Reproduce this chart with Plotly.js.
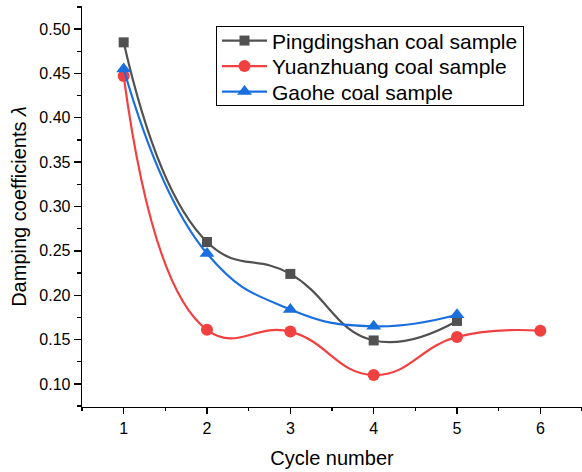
<!DOCTYPE html>
<html>
<head>
<meta charset="utf-8">
<script src="https://cdn.plot.ly/plotly-3.0.1.min.js"></script>
<style>
  html, body { margin: 0; padding: 0; background: #ffffff; }
  #chart { width: 582px; height: 472px; }
</style>
</head>
<body>
<div id="chart"></div>
<script>
// Damping coefficient per loading cycle for three coal samples
const cycles = [1, 2, 3, 4, 5, 6];
const pingdingshan = [0.485, 0.260, 0.224, 0.149, 0.171];
const yuanzhuang   = [0.447, 0.161, 0.159, 0.110, 0.153, 0.160];
const gaohe        = [0.455, 0.247, 0.184, 0.165, 0.178];
const xTicks = [1, 2, 3, 4, 5, 6];
const yTicks = [0.10, 0.15, 0.20, 0.25, 0.30, 0.35, 0.40, 0.45, 0.50];

const FONT = 'Liberation Sans, Arial, Helvetica, sans-serif';

function series(name, xs, ys, color, symbol, size) {
  return {
    type: 'scatter',
    mode: 'lines+markers',
    name: name,
    x: xs.slice(0, ys.length),
    y: ys,
    line: { color: color, width: 2.2, shape: 'spline', smoothing: 1.3 },
    marker: { color: color, symbol: symbol, size: size, line: { width: 0 } },
    cliponaxis: false
  };
}

const traces = [
  series('Pingdingshan coal sample', cycles, pingdingshan, '#515151', 'square', 10),
  series('Yuanzhuang coal sample', cycles, yuanzhuang, '#F14040', 'circle', 12),
  series('Gaohe coal sample', cycles, gaohe, '#1A6FDF', 'triangle-up', 13)
];

const layout = {
  width: 582,
  height: 472,
  margin: { l: 82, r: 0, t: 6, b: 65 },
  paper_bgcolor: '#ffffff',
  plot_bgcolor: '#ffffff',
  font: { family: FONT, color: '#000000', size: 16 },
  showlegend: true,
  legend: {
    x: 0.268, y: 0.95, xanchor: 'left', yanchor: 'top',
    bgcolor: '#ffffff', bordercolor: '#000000', borderwidth: 1,
    font: { family: FONT, size: 21, color: '#000000' },
    itemwidth: 45,
    tracegroupgap: 0
  },
  xaxis: {
    range: [0.5, 6.5],
    tickmode: 'array', tickvals: xTicks, ticktext: xTicks.map(String),
    ticks: 'outside', ticklen: 6, tickwidth: 1.3, tickcolor: '#000000',
    minor: { dtick: 0.5, tick0: 0.5, ticks: 'outside', ticklen: 3, tickwidth: 1.3, tickcolor: '#000000' },
    showline: true, linecolor: '#000000', linewidth: 1.3,
    showgrid: false, zeroline: false,
    tickfont: { family: FONT, size: 16 },
    title: { text: 'Cycle number', font: { family: FONT, size: 20 }, standoff: 15 }
  },
  yaxis: {
    range: [0.074, 0.526],
    tickmode: 'array', tickvals: yTicks, ticktext: yTicks.map(v => v.toFixed(2)),
    ticks: 'outside', ticklen: 7, tickwidth: 1.3, tickcolor: '#000000',
    minor: { dtick: 0.025, tick0: 0.075, ticks: 'outside', ticklen: 4, tickwidth: 1.3, tickcolor: '#000000' },
    showline: true, linecolor: '#000000', linewidth: 1.3,
    showgrid: false, zeroline: false,
    tickfont: { family: FONT, size: 16 },
    title: { text: 'Damping coefficients <i>λ</i>', font: { family: FONT, size: 20 }, standoff: 7 }
  }
};

// Tighten the legend rows so the entries sit closer together
function compactLegend(gd) {
  const legend = gd.querySelector('g.legend');
  if (!legend) return;
  const bg = legend.querySelector('rect.bg');
  const items = legend.querySelectorAll('g.traces');
  if (!bg || !items.length) return;
  const box = bg.getBoundingClientRect();
  const topPad = 14, rowGap = 25.5;
  items.forEach((item, i) => {
    const sample = item.querySelector('.legendlines path') || item;
    const r = sample.getBoundingClientRect();
    const cy = (r.top + r.bottom) / 2;
    const dy = box.top + topPad + i * rowGap - cy;
    const m = /translate\(\s*([-\d.e]+)[ ,]+([-\d.e]+)\s*\)/.exec(item.getAttribute('transform') || '');
    const tx = m ? parseFloat(m[1]) : 0;
    const ty = m ? parseFloat(m[2]) : 0;
    item.setAttribute('transform', 'translate(' + tx + ',' + (ty + dy) + ')');
  });
  bg.setAttribute('height', 2 * topPad + (items.length - 1) * rowGap);
}

Plotly.newPlot('chart', traces, layout, { displayModeBar: false, staticPlot: true })
  .then(compactLegend);
</script>
</body>
</html>
